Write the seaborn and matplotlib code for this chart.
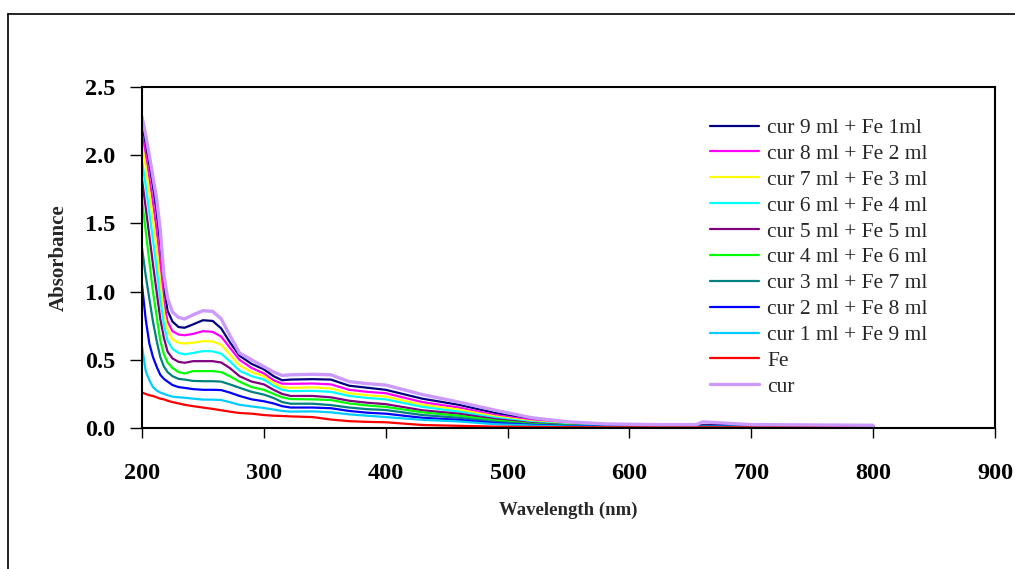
import matplotlib
matplotlib.use("Agg")
import matplotlib.pyplot as plt
import matplotlib.lines as mlines
import pandas as pd
import seaborn as sns

# Wavelength grid (nm) of the sampled absorbance readings
wavelength = [200, 203, 206, 209, 212, 215, 218, 221, 225, 230, 235, 242, 250, 258, 265, 272,
              280, 290, 300, 308, 315, 322, 340, 355, 370, 385, 400, 430, 460, 490, 520, 550,
              580, 620, 655, 660, 700, 800]

cur_9_fe_1 = [2.22, 2.08, 1.93, 1.77, 1.58, 1.34, 1.02, 0.86, 0.78, 0.74, 0.735, 0.76, 0.79, 0.785,
              0.73, 0.63, 0.53, 0.47, 0.43, 0.38, 0.35, 0.355, 0.358, 0.355, 0.31, 0.295, 0.28,
              0.215, 0.17, 0.11, 0.065, 0.04, 0.025, 0.02, 0.02, 0.022, 0.02, 0.015]
cur_8_fe_2 = [2.15, 2.00, 1.83, 1.65, 1.45, 1.20, 0.92, 0.78, 0.71, 0.685, 0.68, 0.69, 0.71, 0.705,
              0.67, 0.59, 0.50, 0.44, 0.40, 0.35, 0.325, 0.324, 0.326, 0.32, 0.28, 0.265, 0.255,
              0.19, 0.15, 0.095, 0.055, 0.032, 0.02, 0.017, 0.015, 0.015, 0.015, 0.015]
cur_7_fe_3 = [2.08, 1.92, 1.73, 1.53, 1.32, 1.07, 0.84, 0.72, 0.65, 0.625, 0.62, 0.625, 0.637, 0.635,
              0.61, 0.54, 0.46, 0.41, 0.38, 0.33, 0.30, 0.294, 0.298, 0.29, 0.255, 0.24, 0.23,
              0.17, 0.135, 0.085, 0.048, 0.027, 0.018, 0.015, 0.015, 0.015, 0.012, 0.01]
cur_6_fe_4 = [1.96, 1.78, 1.58, 1.38, 1.17, 0.94, 0.76, 0.64, 0.58, 0.55, 0.54, 0.55, 0.564, 0.562,
              0.545, 0.49, 0.42, 0.38, 0.355, 0.31, 0.28, 0.27, 0.272, 0.265, 0.235, 0.22, 0.21,
              0.155, 0.12, 0.075, 0.042, 0.024, 0.015, 0.012, 0.012, 0.012, 0.01, 0.01]
cur_5_fe_5 = [1.82, 1.62, 1.41, 1.20, 1.00, 0.80, 0.66, 0.56, 0.51, 0.485, 0.478, 0.49, 0.49, 0.49,
              0.48, 0.44, 0.38, 0.34, 0.32, 0.28, 0.25, 0.235, 0.235, 0.225, 0.20, 0.185, 0.175,
              0.13, 0.105, 0.065, 0.036, 0.02, 0.012, 0.01, 0.01, 0.01, 0.01, 0.01]
cur_4_fe_6 = [1.67, 1.45, 1.22, 1.00, 0.82, 0.64, 0.54, 0.48, 0.44, 0.41, 0.40, 0.417, 0.417, 0.417,
              0.41, 0.38, 0.34, 0.30, 0.28, 0.25, 0.225, 0.212, 0.21, 0.205, 0.18, 0.165, 0.155,
              0.115, 0.09, 0.055, 0.03, 0.018, 0.01, 0.01, 0.01, 0.01, 0.01, 0.01]
cur_3_fe_7 = [1.32, 1.12, 0.95, 0.78, 0.64, 0.52, 0.45, 0.41, 0.38, 0.36, 0.355, 0.345, 0.343, 0.343,
              0.34, 0.32, 0.295, 0.265, 0.245, 0.22, 0.19, 0.178, 0.178, 0.168, 0.15, 0.138, 0.132,
              0.095, 0.075, 0.045, 0.025, 0.015, 0.01, 0.01, 0.01, 0.01, 0.01, 0.01]
cur_2_fe_8 = [1.05, 0.80, 0.62, 0.52, 0.45, 0.39, 0.36, 0.34, 0.315, 0.30, 0.294, 0.285, 0.28, 0.28,
              0.278, 0.26, 0.235, 0.21, 0.196, 0.18, 0.16, 0.15, 0.15, 0.145, 0.125, 0.112, 0.105,
              0.075, 0.06, 0.035, 0.022, 0.013, 0.01, 0.01, 0.01, 0.01, 0.01, 0.01]
cur_1_fe_9 = [0.60, 0.42, 0.35, 0.30, 0.275, 0.26, 0.25, 0.24, 0.23, 0.225, 0.222, 0.215, 0.208, 0.208,
              0.205, 0.19, 0.17, 0.158, 0.147, 0.135, 0.125, 0.12, 0.122, 0.115, 0.10, 0.09, 0.08,
              0.06, 0.048, 0.028, 0.018, 0.01, 0.008, 0.008, 0.008, 0.008, 0.008, 0.008]
fe_only = [0.26, 0.25, 0.24, 0.235, 0.225, 0.215, 0.21, 0.20, 0.19, 0.18, 0.17, 0.16, 0.15, 0.14,
           0.13, 0.12, 0.11, 0.105, 0.095, 0.09, 0.088, 0.085, 0.08, 0.062, 0.05, 0.045, 0.042,
           0.022, 0.016, 0.01, 0.008, 0.006, 0.005, 0.005, 0.005, 0.005, 0.005, 0.005]
cur_only = [2.28, 2.15, 2.00, 1.84, 1.68, 1.45, 1.12, 0.95, 0.85, 0.81, 0.80, 0.83, 0.86, 0.855,
            0.80, 0.68, 0.55, 0.50, 0.45, 0.41, 0.385, 0.39, 0.394, 0.39, 0.34, 0.325, 0.315,
            0.245, 0.19, 0.13, 0.075, 0.045, 0.03, 0.025, 0.025, 0.045, 0.025, 0.02]

series_names = ["cur 9 ml + Fe 1ml", "cur 8 ml + Fe 2 ml", "cur 7 ml + Fe 3 ml",
                "cur 6 ml + Fe 4 ml", "cur 5 ml + Fe 5 ml", "cur 4 ml + Fe 6 ml",
                "cur 3 ml + Fe 7 ml", "cur 2 ml + Fe 8 ml", "cur 1 ml + Fe 9 ml",
                "Fe", "cur"]
series_values = [cur_9_fe_1, cur_8_fe_2, cur_7_fe_3, cur_6_fe_4, cur_5_fe_5, cur_4_fe_6,
                 cur_3_fe_7, cur_2_fe_8, cur_1_fe_9, fe_only, cur_only]
series_colors = ["#000080", "#FF00FF", "#FFFF00", "#00FFFF", "#800080", "#00FF00",
                 "#008080", "#0000FF", "#00CCFF", "#FF0000", "#CC99FF"]

x_ticks = [200, 300, 400, 500, 600, 700, 800, 900]
y_ticks = [0.0, 0.5, 1.0, 1.5, 2.0, 2.5]

frames = []
for name, vals in zip(series_names, series_values):
    frames.append(pd.DataFrame({"Wavelength": wavelength, "Absorbance": vals, "Sample": name}))
df = pd.concat(frames, ignore_index=True)

sns.set_style("white")
plt.rcParams["font.family"] = ["Liberation Serif", "DejaVu Serif"]

W, H = 1015, 569
fig = plt.figure(figsize=(W / 100, H / 100), dpi=100)
ax = fig.add_axes([142 / W, 1 - 428 / H, (995 - 142) / W, (428 - 87) / H])

palette = dict(zip(series_names, series_colors))
sns.lineplot(data=df, x="Wavelength", y="Absorbance", hue="Sample", hue_order=series_names,
             palette=palette, sort=False, estimator=None, linewidth=1.6, ax=ax, legend=False)
# the pure curcumin trace is drawn a bit heavier
ax.lines[-1].set_linewidth(2.4)

ax.set_xlim(200, 900)
ax.set_ylim(0, 2.5)
ax.set_xticks(x_ticks)
ax.set_yticks(y_ticks)
ax.set_xticklabels([str(t) for t in x_ticks], fontsize=17.5, fontweight="bold")
ax.set_yticklabels([f"{t:.1f}" for t in y_ticks], fontsize=17.5, fontweight="bold")
ax.tick_params(axis="x", direction="out", length=7, width=1, pad=18, colors="black")
ax.tick_params(axis="y", direction="out", length=9, width=1, pad=10, colors="black")
ax.tick_params(bottom=True, left=True)
for side in ["top", "right", "bottom", "left"]:
    ax.spines[side].set_visible(True)
    ax.spines[side].set_color("black")
    ax.spines[side].set_linewidth(1.5)

ax.set_xlabel("Wavelength (nm)", fontsize=13.5, fontweight="bold")
ax.set_ylabel("Absorbance", fontsize=15, fontweight="bold")
ax.xaxis.set_label_coords((568 - 142) / (995 - 142), -(502 - 428) / (428 - 87))
ax.yaxis.set_label_coords(-(142 - 69) / (995 - 142), (428 - 258) / (428 - 87))

handles = [mlines.Line2D([], [], color=c, linewidth=2.4 if n == "cur" else 1.6)
           for n, c in zip(series_names, series_colors)]
ax.legend(handles, series_names, loc="upper left",
          bbox_to_anchor=(710 / W, 1 - 118 / H), bbox_transform=fig.transFigure,
          frameon=False, fontsize=15.5, handlelength=2.28, handletextpad=0.37,
          labelspacing=0.27, borderpad=0, borderaxespad=0)

# chart-area border
fig.add_artist(mlines.Line2D([8 / W, 8 / W], [1 - 14 / H, -0.05], color="black", linewidth=1.2,
                             transform=fig.transFigure, clip_on=False))
fig.add_artist(mlines.Line2D([8 / W, 1.05], [1 - 14 / H, 1 - 14 / H], color="black", linewidth=1.2,
                             transform=fig.transFigure, clip_on=False))

fig.savefig("out.png", dpi=100, facecolor="white")
